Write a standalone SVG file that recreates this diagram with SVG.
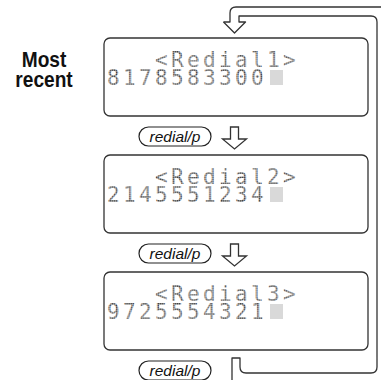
<svg xmlns="http://www.w3.org/2000/svg" width="381" height="380" viewBox="0 0 381 380">
<defs>
<pattern id="dots" patternUnits="userSpaceOnUse" width="2.1" height="2.1">
<rect x="0.25" y="0.25" width="1.6" height="1.6" fill="#3a3a3a"/>
</pattern>
<style>
.box{fill:#fff;stroke:#333;stroke-width:1.3}
.lcd{font-family:"DejaVu Sans Mono","Liberation Mono",monospace;font-size:21px;letter-spacing:3.36px;fill:url(#dots)}
.cur{fill:#d9d9d9}
.pill{fill:#fff;stroke:#222;stroke-width:1.2}
.ptxt{font-family:"Liberation Sans",Arial,sans-serif;font-style:italic;font-size:15.5px;fill:#111;text-anchor:middle}
.line{fill:none;stroke:#333;stroke-width:1.3;stroke-linejoin:round}
.arr{fill:#fff;stroke:#333;stroke-width:1.3;stroke-linejoin:miter}
.lbl{font-family:"Liberation Sans",Arial,sans-serif;font-weight:bold;font-size:22.5px;fill:#111;text-anchor:middle}
</style>
</defs>
<rect width="381" height="380" fill="#fff"/>

<g id="label-most-recent">
<text class="lbl" transform="translate(44,0) scale(0.85,1)"><tspan x="0" y="67">Most</tspan><tspan x="0" y="87">recent</tspan></text>
</g>

<g id="redial1">
<rect class="box" x="104" y="38" width="264" height="78" rx="6"/>
<text class="lcd"><tspan x="155" y="67">&lt;Redial1&gt;</tspan><tspan x="107" y="85">8178583300</tspan></text>
<rect class="cur" x="270" y="70" width="13" height="15"/>
</g>

<g id="redial2">
<rect class="box" x="104" y="155" width="264" height="78" rx="6"/>
<text class="lcd"><tspan x="155" y="184">&lt;Redial2&gt;</tspan><tspan x="107" y="202">2145551234</tspan></text>
<rect class="cur" x="270" y="187" width="13" height="15"/>
</g>

<g id="redial3">
<rect class="box" x="104" y="272" width="264" height="78" rx="6"/>
<text class="lcd"><tspan x="155" y="301">&lt;Redial3&gt;</tspan><tspan x="107" y="319">9725554321</tspan></text>
<rect class="cur" x="270" y="304" width="13" height="15"/>
</g>

<g id="key1">
<rect class="pill" x="139" y="127" width="72" height="19" rx="9.5"/>
<text class="ptxt" x="175" y="141.5">redial/p</text>
</g>
<g id="key2">
<rect class="pill" x="139" y="244" width="72" height="19" rx="9.5"/>
<text class="ptxt" x="175" y="258.5">redial/p</text>
</g>
<g id="key3">
<rect class="pill" x="139" y="361" width="72" height="19" rx="9.5"/>
<text class="ptxt" x="175" y="375.5">redial/p</text>
</g>

<g id="connectors">
<path class="arr" d="M230.5,127 H238.5 V139 H246.5 L234.5,149 L222.5,139 H230.5 Z"/>
<path class="arr" d="M230.5,244 H238.5 V256 H246.5 L234.5,266 L222.5,256 H230.5 Z"/>
<path class="line" d="M223.5,22 L234.5,33 L245.5,22 H239 V16 H371 Q377,16 377,22 V367 Q377,373 371,373 H246 Q240,373 240,367 V358 H232 V385"/>
<path class="line" d="M223.5,22 H230 V13 Q230,7 236,7 H390"/>
</g>
</svg>
